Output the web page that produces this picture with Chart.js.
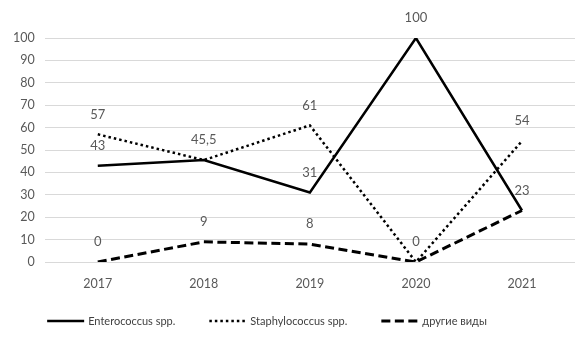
<!DOCTYPE html>
<html><head><meta charset="utf-8">
<script src="https://cdn.jsdelivr.net/npm/chart.js@4"></script>
<style>html,body{margin:0;padding:0;background:#fff}#wrap{width:583px;height:344px}</style>
</head><body><div id="wrap"><canvas id="c"></canvas></div>
<script>
const categories = ['2017','2018','2019','2020','2021'];
const enterococcus = [43, 45.5, 31, 100, 23];
const staphylococcus = [57, 45.5, 61, 0, 54];
const other = [0, 9, 8, 0, 23];
const seriesNames = ['Enterococcus spp.', 'Staphylococcus spp.', 'другие виды'];
const yTicks = [0,10,20,30,40,50,60,70,80,90,100];

const FONT = 'Lato, "Open Sans", sans-serif';
const labelPlugin = {
  id: 'valueLabels',
  afterDatasetsDraw(chart) {
    const ctx = chart.ctx;
    ctx.save();
    ctx.font = '13px ' + FONT;
    ctx.fillStyle = '#595959';
    ctx.textAlign = 'center';
    ctx.textBaseline = 'middle';
    const seen = new Set();
    chart.data.datasets.forEach((ds, di) => {
      const meta = chart.getDatasetMeta(di);
      meta.data.forEach((pt, i) => {
        const txt = String(ds.data[i]).replace('.', ',');
        const key = i + ':' + ds.data[i];
        if (seen.has(key)) return;
        seen.add(key);
        ctx.fillText(txt, pt.x, pt.y - 20);
      });
    });
    ctx.restore();
  }
};

const legendPlugin = {
  id: 'customLegend',
  afterDraw(chart) {
    const ctx = chart.ctx;
    ctx.save();
    ctx.font = '11px ' + FONT;
    ctx.textBaseline = 'middle';
    ctx.textAlign = 'left';
    const markerW = 37, markerGap = 4, itemGap = 34;
    const items = chart.data.datasets.map(ds => ({ ds, w: markerW + markerGap + ctx.measureText(ds.label).width }));
    const total = items.reduce((s, it) => s + it.w, 0) + itemGap * (items.length - 1);
    let x = 267 - total / 2;
    const y = 321;
    items.forEach(({ ds, w }) => {
      ctx.beginPath();
      ctx.strokeStyle = ds.borderColor;
      ctx.lineWidth = ds.borderWidth;
      ctx.setLineDash(ds.borderDash || []);
      ctx.moveTo(x, y);
      ctx.lineTo(x + markerW, y);
      ctx.stroke();
      ctx.setLineDash([]);
      ctx.fillStyle = '#404040';
      ctx.fillText(ds.label, x + markerW + markerGap, y);
      x += w + itemGap;
    });
    ctx.restore();
  }
};

new Chart(document.getElementById('c'), {
  type: 'line',
  data: {
    labels: categories,
    datasets: [
      { label: seriesNames[0], data: enterococcus, borderColor: '#000', backgroundColor: '#000', borderWidth: 2.5, pointRadius: 0, tension: 0 },
      { label: seriesNames[1], data: staphylococcus, borderColor: '#000', backgroundColor: '#000', borderWidth: 2.5, borderDash: [2.5, 3], pointRadius: 0, tension: 0 },
      { label: seriesNames[2], data: other, borderColor: '#000', backgroundColor: '#000', borderWidth: 3, borderDash: [9, 4.5], pointRadius: 0, tension: 0 }
    ]
  },
  options: {
    responsive: true,
    maintainAspectRatio: false,
    animation: false,
    layout: { padding: { top: 38, right: 8, left: 3, bottom: 47 } },
    plugins: {
      tooltip: { enabled: false },
      legend: { display: false }
    },
    scales: {
      x: {
        offset: true,
        grid: { display: false },
        border: { display: false },
        ticks: { color: '#595959', font: { family: FONT, size: 12.5 }, padding: 6 }
      },
      y: {
        min: 0, max: 100,
        afterBuildTicks(axis) { axis.ticks = yTicks.map(v => ({ value: v })); },
        grid: { color: '#d9d9d9', lineWidth: 1, drawTicks: false },
        border: { display: false },
        ticks: { color: '#595959', font: { family: FONT, size: 12.5 }, padding: 10 }
      }
    }
  },
  plugins: [labelPlugin, legendPlugin]
});
</script></body></html>
